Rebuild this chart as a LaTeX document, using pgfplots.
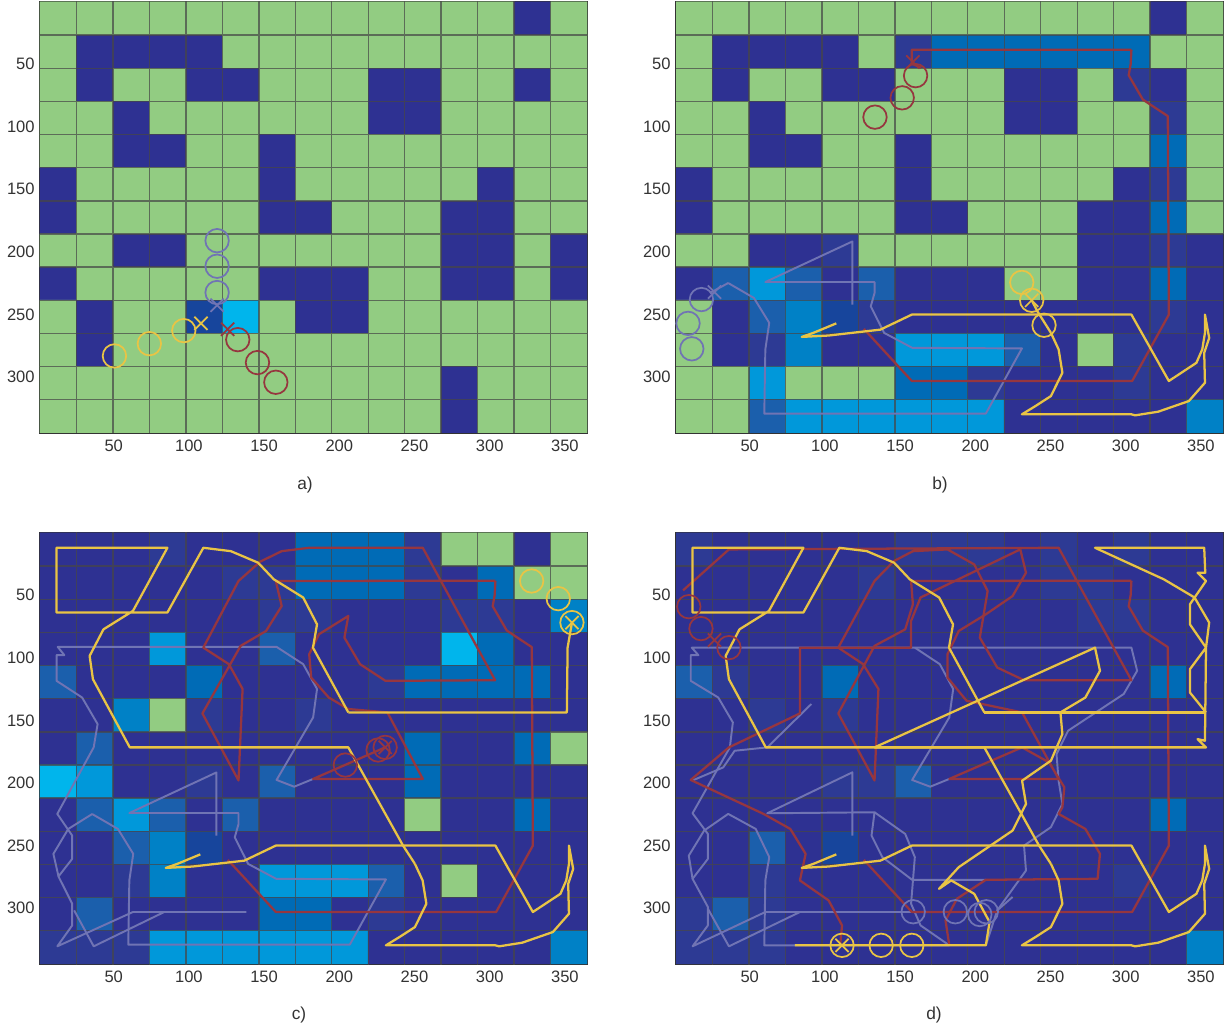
\documentclass[border=0pt]{standalone}
\usepackage{fontspec}
\setmainfont{Liberation Sans}
\usepackage{pgfplots}
\usepackage{pgfplotstable}
\pgfplotsset{compat=1.18}
\definecolor{ye}{HTML}{E9C445}
\definecolor{re}{HTML}{96363F}
\definecolor{pu}{HTML}{7074B4}
\definecolor{ax}{HTML}{333333}
\pgfplotstableread{
25.25 0
25.25 345
nan nan
49.5 0
49.5 345
nan nan
73.75 0
73.75 345
nan nan
98 0
98 345
nan nan
122.25 0
122.25 345
nan nan
146.5 0
146.5 345
nan nan
170.75 0
170.75 345
nan nan
195 0
195 345
nan nan
219.25 0
219.25 345
nan nan
243.5 0
243.5 345
nan nan
267.75 0
267.75 345
nan nan
292 0
292 345
nan nan
316.25 0
316.25 345
nan nan
340.5 0
340.5 345
nan nan
0 26.95
365 26.95
nan nan
0 53.4
365 53.4
nan nan
0 79.85
365 79.85
nan nan
0 106.3
365 106.3
nan nan
0 132.75
365 132.75
nan nan
0 159.2
365 159.2
nan nan
0 185.65
365 185.65
nan nan
0 212.1
365 212.1
nan nan
0 238.55
365 238.55
nan nan
0 265
365 265
nan nan
0 291.45
365 291.45
nan nan
0 317.9
365 317.9
}\gridtab
\pgfplotstableread{
250.3 264.6
255.4 277.8
257.9 296.4
250.3 315
240 323
231 329.6
303.8 329.6
306.3 330.4
321.6 327.5
342 319
352.7 304.4
352.2 280.5
355.5 268.6
352.7 250
352.7 264.6
350.9 277.8
347 288.5
328.7 303
303.8 250
157.8 250
136.9 262
102.5 266.7
84.6 267.8
92.3 264.6
107.6 257
}\ytail
\pgfplotstableread{
303.8 38.6
303.3 50
302 59
311.4 78.4
328 91.6
328.7 250
304.3 303
157.8 303
125.9 261.4
}\rtail
\pgfplotstableread{
118.3 242
118.3 191.6
60.4 224
133 224
133 232.8
130.5 243.4
139.4 264.6
158 276.5
231 277
207 329
59.7 329
60.4 277.8
63 256.6
52.8 236.7
35.7 224.8
}\ptail
\pgfplotstableread{
206 143.7
182.5 92
185.2 73.4
176 52
156.5 37.5
146 24.2
127.9 15
109.6 12.3
85.7 64
12 64
12 12.3
85.7 12.3
62.8 62.7
43.2 77.4
34 98.6
36.2 117.2
60.7 171.6
206 171.6
242.4 250
250.3 264.6
}\ycpath
\pgfplotstableread{
182.6 196.8
170 203
158.3 197.6
182.6 147.7
185.2 125
176 105.2
158.3 91.4
12.8 91.4
17.2 98
12 98
12 118.5
29 131.8
39.3 153
36.7 171.6
12.5 224.7
22.4 242
22.4 260.6
13.3 274.6
22.4 296.4
22.4 313.7
12.5 330.4
62.8 303
138.3 303
}\pcleft
\newcommand\cells[1]{\addplot[matrix plot*, mesh/cols=15, mesh/ordering=x varies, point meta=\thisrow{c}] table[row sep=crcr, x expr={13.125+24.25*(\coordindex-15*floor(\coordindex/15+0.001))}, y expr={13.725+26.45*floor(\coordindex/15+0.001)}] {c\\ #1};
\addplot[draw=black!72, opacity=0.72, line width=1.05pt, unbounded coords=jump, filter discard warning=false] table {\gridtab};}
\pgfplotsset{
  panel/.style={
    scale only axis, width=410.25pt, height=323.25pt, anchor=south west,
    xmin=1, xmax=364.7, ymin=0.5, ymax=344.5, y dir=reverse,
    xtick={50,100,150,200,250,300,350}, ytick={50,100,150,200,250,300},
    tick align=inside, major tick length=3.2pt, tick style={color=ax, line width=0.8pt},
    axis line style={color=ax, line width=1.4pt},
    tick label style={font=\fontsize{12.4}{14}\selectfont, text=ax},
    xticklabel style={yshift=-1.5pt}, yticklabel style={xshift=-0.5pt},
    /pgf/number format/assume math mode=true,
    colormap={cells}{rgb255=(46,49,146) rgb255=(45,58,148) rgb255=(23,69,156) rgb255=(27,95,172) rgb255=(0,107,182) rgb255=(0,129,198) rgb255=(0,152,218) rgb255=(0,181,236) rgb255=(146,204,130)},
    colormap access=direct,
  },
  yl/.style={draw=ye, line width=1.7pt, no marks, line join=round},
  rl/.style={draw=re, line width=1.7pt, no marks, line join=round},
  pl/.style={draw=pu, line width=1.45pt, no marks, line join=round},
  mc/.style={only marks, mark=o, mark size=8.8pt, mark options={draw=#1, line width=1.3pt, fill=none}},
  mx/.style={only marks, mark=x, mark size=7pt, mark options={draw=#1, line width=1.3pt}},
}
\begin{document}
\begin{tikzpicture}
\useasboundingbox (0,0) rectangle (921pt,771pt);
%% a
\begin{axis}[panel, at={(30pt,446.25pt)}]
\cells{8\\8\\8\\8\\8\\8\\8\\8\\8\\8\\8\\8\\8\\0\\8\\
8\\0\\0\\0\\0\\8\\8\\8\\8\\8\\8\\8\\8\\8\\8\\
8\\0\\8\\8\\0\\0\\8\\8\\8\\0\\0\\8\\8\\0\\8\\
8\\8\\0\\8\\8\\8\\8\\8\\8\\0\\0\\8\\8\\8\\8\\
8\\8\\0\\0\\8\\8\\0\\8\\8\\8\\8\\8\\8\\8\\8\\
0\\8\\8\\8\\8\\8\\0\\8\\8\\8\\8\\8\\0\\8\\8\\
0\\8\\8\\8\\8\\8\\0\\0\\8\\8\\8\\0\\0\\8\\8\\
8\\8\\0\\0\\8\\8\\8\\8\\8\\8\\8\\0\\0\\8\\0\\
0\\8\\8\\8\\8\\8\\0\\0\\0\\8\\8\\0\\0\\8\\0\\
8\\0\\8\\8\\2\\7\\8\\0\\0\\8\\8\\8\\8\\8\\8\\
8\\0\\8\\8\\8\\8\\8\\8\\8\\8\\8\\8\\8\\8\\8\\
8\\8\\8\\8\\8\\8\\8\\8\\8\\8\\8\\0\\8\\8\\8\\
8\\8\\8\\8\\8\\8\\8\\8\\8\\8\\8\\0\\8\\8\\8\\}
\addplot[mc=pu] coordinates {(118.75,191) (118.75,211.4) (118.75,232.4)};
\addplot[mx=pu] coordinates {(118.75,242.5)};
\addplot[mc=re] coordinates {(132.5,270) (145.6,288.3) (157.8,304)};
\addplot[mx=re] coordinates {(125.8,261.7)};
\addplot[mc=ye] coordinates {(50.5,283) (73.7,273.2) (96.6,262.8)};
\addplot[mx=ye] coordinates {(108,257)};
\end{axis}
%% b
\begin{axis}[panel, at={(507pt,446.25pt)}]
\cells{8\\8\\8\\8\\8\\8\\8\\8\\8\\8\\8\\8\\8\\0\\8\\
8\\0\\0\\0\\0\\8\\1\\4\\4\\4\\4\\4\\4\\8\\8\\
8\\0\\8\\8\\0\\0\\8\\8\\8\\0\\0\\8\\1\\0\\8\\
8\\8\\0\\8\\8\\8\\8\\8\\8\\0\\0\\8\\8\\1\\8\\
8\\8\\0\\0\\8\\8\\0\\8\\8\\8\\8\\8\\8\\4\\8\\
0\\8\\8\\8\\8\\8\\0\\8\\8\\8\\8\\8\\0\\1\\8\\
0\\8\\8\\8\\8\\8\\0\\0\\8\\8\\8\\0\\0\\4\\8\\
8\\8\\0\\0\\1\\8\\8\\8\\8\\8\\8\\0\\0\\1\\0\\
0\\3\\6\\3\\0\\3\\0\\0\\0\\8\\8\\0\\0\\4\\0\\
8\\0\\3\\5\\2\\1\\0\\0\\0\\0\\0\\0\\0\\1\\0\\
8\\0\\1\\5\\0\\0\\6\\6\\6\\3\\0\\8\\1\\0\\0\\
8\\8\\6\\8\\8\\8\\4\\4\\1\\0\\0\\0\\1\\0\\0\\
8\\8\\3\\6\\6\\6\\6\\6\\6\\0\\0\\0\\0\\0\\5\\}
\addplot[pl] table {\ptail};
\addplot[pl] coordinates {(35.7,224.8) (23.5,232.8)};
\addplot[mc=pu] coordinates {(17.9,238) (9,257) (11.5,277.3)};
\addplot[mx=pu] coordinates {(26.6,232)};
\addplot[rl] coordinates {(164,53) (157.8,49.7) (157.8,38.6) (303.8,38.6)};
\addplot[rl] table {\rtail};
\addplot[mc=re] coordinates {(160.3,59.3) (151.4,77) (133.3,92.4)};
\addplot[mx=re] coordinates {(158.5,48.4)};
\addplot[yl] coordinates {(237.5,238.6) (241.3,247.4) (250.3,264.6)};
\addplot[yl] table {\ytail};
\addplot[mc=ye] coordinates {(230.9,224.3) (237.5,238.6) (245.7,258.5)};
\addplot[mx=ye] coordinates {(237.5,238.6)};
\end{axis}
%% c
\begin{axis}[panel, at={(30pt,48pt)}]
\cells{0\\0\\0\\1\\0\\0\\0\\4\\4\\4\\1\\8\\8\\0\\8\\
0\\0\\0\\0\\0\\1\\1\\4\\4\\4\\1\\0\\4\\8\\8\\
0\\0\\0\\0\\0\\0\\1\\1\\0\\0\\0\\1\\1\\0\\5\\
0\\0\\0\\6\\0\\0\\3\\0\\0\\0\\0\\7\\4\\0\\0\\
3\\0\\0\\0\\4\\0\\0\\0\\0\\1\\4\\4\\4\\4\\0\\
0\\0\\5\\8\\1\\0\\0\\1\\0\\0\\0\\0\\0\\0\\0\\
0\\3\\0\\0\\0\\0\\0\\0\\0\\0\\4\\0\\0\\4\\8\\
7\\6\\0\\0\\1\\0\\3\\0\\0\\0\\4\\0\\0\\0\\0\\
0\\3\\6\\3\\0\\3\\0\\0\\0\\0\\8\\0\\0\\4\\0\\
0\\0\\3\\5\\2\\0\\0\\0\\0\\0\\0\\0\\0\\0\\0\\
0\\0\\1\\5\\0\\0\\6\\6\\6\\3\\0\\8\\0\\0\\0\\
0\\3\\0\\0\\0\\0\\4\\4\\0\\1\\0\\0\\0\\0\\0\\
1\\1\\1\\6\\6\\6\\6\\6\\6\\0\\0\\0\\0\\0\\5\\}
\addplot[pl] table {\ptail};
\addplot[pl] coordinates {(35.7,224.8) (19.8,236.7) (9.9,256.6) (13.3,274.6)};
\addplot[pl] table {\pcleft};
\addplot[pl] coordinates {(23.7,301.7) (36.7,330.4) (83.6,303)};
\addplot[rl] coordinates {(230.5,171.6) (182.6,196.8) (255.5,196.8) (232,143.7) (206,141) (193,131.8) (181.3,115.9) (180,97.3) (186.5,81.3) (206,66.7) (203.4,84) (213.8,105.2) (230.7,118.5) (303.6,118) (255.5,12.3) (180,12.3) (161.7,15) (147.4,23.4) (133,38.8) (109.6,92) (126.6,105.2) (135.7,125) (133,198) (109,144.5) (134.4,90.6) (151.3,78.7) (161.7,58.8) (157.8,38.8) (303.8,38.6)};
\addplot[rl] table {\rtail};
\addplot[mc=re] coordinates {(230.5,171.6) (225.8,173.7) (204,185.7)};
\addplot[mx=re] coordinates {(230.5,171.6)};
\addplot[yl] coordinates {(354.7,72) (351.8,92) (351.3,143.7) (206,143.7)};
\addplot[yl] table {\ycpath};
\addplot[yl] table {\ytail};
\addplot[mc=ye] coordinates {(327.9,38.8) (345.6,52.9) (354.7,72)};
\addplot[mx=ye] coordinates {(354.7,72)};
\end{axis}
%% d
\begin{axis}[panel, at={(507pt,48pt)}]
\cells{1\\0\\0\\0\\0\\0\\1\\1\\1\\0\\1\\0\\1\\0\\0\\
0\\0\\0\\0\\0\\1\\0\\0\\0\\0\\1\\1\\0\\0\\0\\
0\\0\\0\\0\\0\\0\\0\\0\\0\\0\\0\\1\\1\\0\\0\\
0\\0\\0\\0\\0\\0\\0\\0\\0\\0\\0\\0\\0\\0\\0\\
3\\1\\0\\0\\4\\0\\0\\0\\0\\0\\0\\0\\0\\4\\0\\
0\\0\\1\\0\\1\\0\\0\\0\\0\\0\\0\\0\\0\\0\\0\\
0\\0\\0\\0\\0\\0\\0\\0\\0\\0\\0\\0\\0\\0\\0\\
0\\0\\0\\0\\1\\1\\3\\0\\0\\0\\0\\0\\0\\0\\0\\
0\\0\\0\\0\\0\\0\\0\\0\\0\\0\\0\\0\\0\\4\\0\\
0\\0\\3\\0\\2\\0\\0\\0\\0\\0\\0\\0\\0\\0\\0\\
0\\0\\1\\0\\0\\0\\0\\0\\0\\0\\0\\0\\1\\0\\0\\
1\\3\\1\\0\\0\\0\\0\\0\\0\\0\\0\\0\\0\\0\\0\\
1\\1\\1\\0\\0\\0\\0\\0\\0\\0\\0\\0\\0\\0\\5\\}
\addplot[pl] coordinates {(118.3,242) (118.3,191.5) (61.7,224.2) (133,223.4) (131,242) (138.2,259.2) (158,277.3) (207,277.3)};
\addplot[pl] coordinates {(133,223.4) (153.4,240.7) (159.8,259.2) (157.3,296.4) (163.6,313.7) (182.7,329.6) (59.7,329.6) (60.4,277.8) (63,259.2) (54,236.7) (35.7,224.7) (19.7,238) (9.5,258) (12,276.5)};
\addplot[pl] coordinates {(207,329.6) (214.6,301.7) (233.7,269.9) (232.4,250) (250.3,235.3) (257.9,216.8) (255.4,198.2) (254,177) (261.7,158.3) (298.7,129) (307.6,110.5) (303.8,92) (11.5,92) (15.9,98) (10.8,98) (10.8,118.5) (29.1,131.8) (38.8,151.7) (36.8,171.6) (12,224.2) (22.2,240.7) (22.2,260.6) (12,276.5) (22.2,299) (22.2,313.7) (12,330.4) (60.4,303) (159.8,303)};
\addplot[pl] coordinates {(214.6,301.7) (224.8,291)};
\addplot[pl] coordinates {(22.2,300.4) (36.2,330.4) (83.4,303)};
\addplot[pl] coordinates {(159.8,92) (176.4,105.2) (185.3,125) (182.7,147.7) (158,197.6) (170,203) (182.7,196.8)};
\addplot[pl] coordinates {(91,137) (61.7,171.6) (40,174.3) (32.4,187.6) (12,198)};
\addplot[mc=pu] coordinates {(158.7,302.8) (186.7,302.8) (203,305) (207.3,302.8)};
\addplot[rl] coordinates {(5.7,46.3) (36.2,13.6) (255.4,12.3) (303.8,118) (232.4,118) (214.6,107.9) (203,84) (208.2,46.8) (199.3,25.6) (181.5,13.6) (158.5,15) (145.8,23) (133,38.8) (108.9,92) (125.4,105.2) (135.6,125) (133,198) (108.9,144.5) (133,90.6) (153.4,77.4) (158.5,57.4) (157.3,38.8) (303.8,38.6)};
\addplot[rl] table {\rtail};
\addplot[rl] coordinates {(229.9,13.6) (233.7,32.2) (224.8,50.8) (207,65.4) (189,78.7) (181.5,97.3) (181.5,115.9) (194.2,134.4) (231.1,143.7) (255.4,196.8) (182.7,196.8) (231.1,171.6) (249,183.6) (259.2,203.5) (257.9,219.4) (255.4,224.7) (273.2,236.7) (282.9,256.6) (281.3,276.5) (207,277.3) (187.8,292.4) (180.2,309.7) (182.7,329.6)};
\addplot[rl] coordinates {(229.9,13.6) (163.6,52) (157.3,70.7) (157.3,92) (83.4,92) (83.4,144.5) (36.2,171.6) (10.8,197.6) (59.2,224.7) (77,236.7) (87.2,256.6) (83.4,277.8) (102.5,293.8) (111.4,313.7) (110.1,329.6)};
\addplot[mc=re] coordinates {(9.5,59.3) (17.6,76.8) (36.2,92)};
\addplot[mx=re] coordinates {(26.6,86)};
\addplot[yl] coordinates {(353.4,143.7) (206,143.7)};
\addplot[yl] table {\ycpath};
\addplot[yl] table {\ytail};
\addplot[yl] coordinates {(353.4,143.7) (342.7,127.8) (342.7,109.2) (353.4,92) (342.7,73.4) (342.7,57.4) (353.4,38.8) (347.8,32.2) (352.9,32.2) (352.2,12.3) (279.6,12.3) (325.4,37.5) (345.8,52) (355.5,72) (353.4,92) (352.7,166.3) (347.8,165) (353.4,171.6) (133,171.6) (279.6,92) (282.9,110.5) (273.2,131.8) (256.6,143.7) (257.9,161) (250.3,182.2) (231.1,198.2) (233.7,216.8) (224.8,238) (189,267.2) (175.9,284.5) (184,277.8) (199.3,288.5) (209.5,311) (207,329.6) (80,329.6)};
\addplot[mc=ye] coordinates {(157.8,329.6) (137.4,329.6) (111.4,329.6)};
\addplot[mx=ye] coordinates {(111.4,329.6)};
\end{axis}
\node[font=\fontsize{13}{15}\selectfont, text=ax] at (228.75pt,407.5pt) {a)};
\node[font=\fontsize{13}{15}\selectfont, text=ax] at (705pt,407.5pt) {b)};
\node[font=\fontsize{13}{15}\selectfont, text=ax] at (224.25pt,10pt) {c)};
\node[font=\fontsize{13}{15}\selectfont, text=ax] at (700.5pt,10pt) {d)};
\end{tikzpicture}
\end{document}
